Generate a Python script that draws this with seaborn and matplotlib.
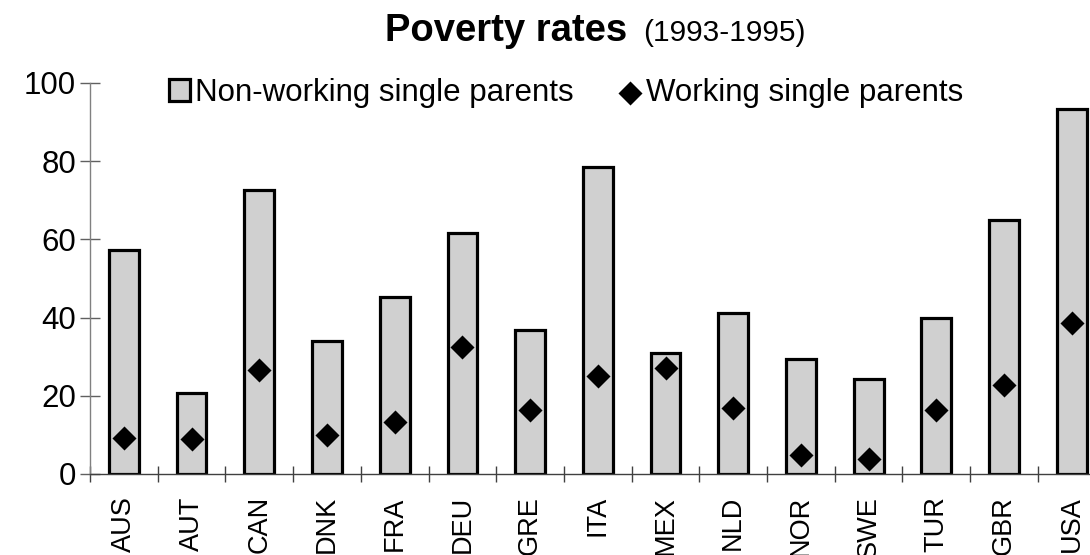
import numpy as np
import pandas as pd
import matplotlib
matplotlib.use("Agg")
import matplotlib.pyplot as plt
import seaborn as sns

countries = ["AUS", "AUT", "CAN", "DNK", "FRA", "DEU", "GRE", "ITA",
             "MEX", "NLD", "NOR", "SWE", "TUR", "GBR", "USA"]
non_working = [57.2, 20.8, 72.6, 34.0, 45.2, 61.7, 36.8, 78.6,
               31.0, 41.2, 29.4, 24.2, 39.9, 65.0, 93.4]
working = [9.2, 9.0, 26.6, 10.0, 13.3, 32.5, 16.4, 25.0,
           27.1, 16.9, 4.9, 3.8, 16.4, 22.8, 38.6]

df = pd.DataFrame({"country": countries, "non_working": non_working, "working": working})

sns.set_style("white")
plt.rcParams["font.family"] = ["Liberation Sans", "DejaVu Sans"]
plt.rcParams["text.color"] = "black"
plt.rcParams["xtick.labelcolor"] = "black"
plt.rcParams["ytick.labelcolor"] = "black"

fig = plt.figure(figsize=(10.9, 5.55), dpi=100)
ax = fig.add_axes([0.0826, 0.146, 1 - 0.0826, 0.8505 - 0.146])

sns.barplot(data=df, x="country", y="non_working", width=0.44, color="#D0D0D0",
            edgecolor="black", linewidth=2.3, saturation=1,
            label="Non-working single parents", ax=ax, zorder=2)
sns.scatterplot(data=df, x="country", y="working", marker="D", s=150,
                color="black", edgecolor="black", linewidth=0,
                label="Working single parents", ax=ax, zorder=3)

ax.set_ylim(0, 100)
ax.set_xlim(-0.5, 14.27)
ax.set_yticks([0, 20, 40, 60, 80, 100])
ax.set_xlabel("")
ax.set_ylabel("")

for side in ["top", "right"]:
    ax.spines[side].set_visible(False)
ax.spines["left"].set_color("#808080")
ax.spines["bottom"].set_color("#404040")
ax.spines["left"].set_linewidth(1.0)
ax.spines["bottom"].set_linewidth(1.0)

ax.tick_params(axis="y", direction="inout", length=14, width=1, color="#606060",
               labelsize=22.5, pad=3, left=True, labelcolor="black")
ax.tick_params(axis="x", which="major", length=0, labelsize=19.5, pad=16,
               labelrotation=90, labelcolor="black")
ax.set_xticks(np.arange(-0.5, 14.5, 1), minor=True)
ax.tick_params(axis="x", which="minor", direction="inout", length=12, width=1,
               color="#404040", bottom=True)

handles, labels = ax.get_legend_handles_labels()
order = [labels.index("Non-working single parents"), labels.index("Working single parents")]
leg = ax.legend([handles[i] for i in order], [labels[i] for i in order],
                loc="center left", bbox_to_anchor=(0.066, 0.975), ncol=2, frameon=False,
                fontsize=22.5, handlelength=0.7, handleheight=0.7, handletextpad=0.15,
                columnspacing=1.45, borderaxespad=0)
for t in leg.get_texts():
    t.set_color("black")

fig.text(0.353, 0.926, "Poverty rates", fontsize=27.5, fontweight="bold",
         va="baseline", color="black")
fig.text(0.590, 0.926, "(1993-1995)", fontsize=21.5, va="baseline", color="black")

fig.savefig("out.png", dpi=100)
